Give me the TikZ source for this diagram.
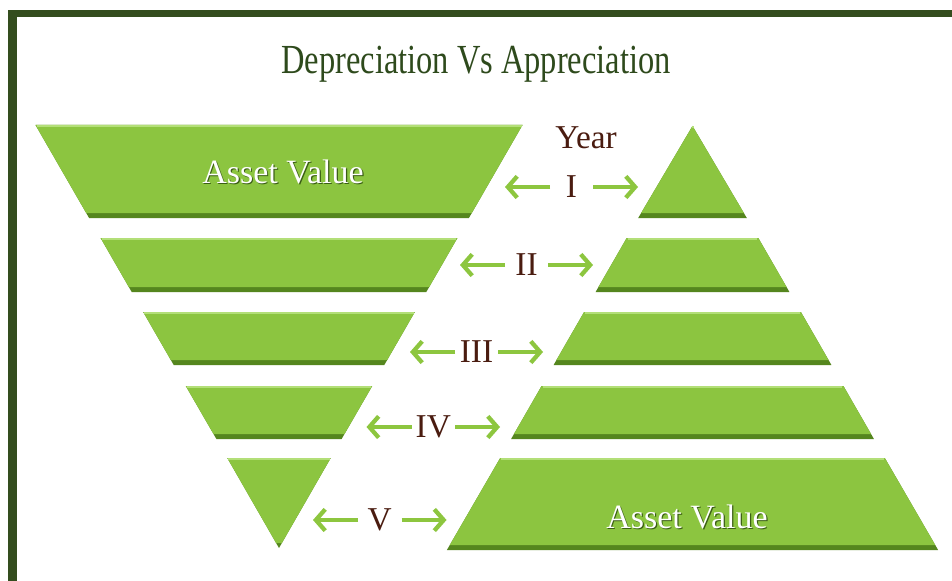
\documentclass[tikz,border=0pt]{standalone}
\usepackage{fontspec}
\usepackage{graphicx}
\setmainfont{Liberation Serif}
\usetikzlibrary{arrows.meta,calc}
\definecolor{borderg}{HTML}{344D1E}
\definecolor{titleg}{HTML}{2E4A1C}
\definecolor{gmain}{HTML}{8CC540}
\definecolor{gshadow}{HTML}{55861E}
\definecolor{glight}{HTML}{B3DF78}
\definecolor{arrowg}{HTML}{8DC63F}
\definecolor{brownt}{HTML}{4A1C10}
\newcommand\greentrap[6]{%
  \pgfmathsetmacro\tf{(#6-5-#3)/(#6-#3)}%
  \pgfmathsetmacro\ilx{#1+(#4-#1)*\tf}%
  \pgfmathsetmacro\irx{#2+(#5-#2)*\tf}%
  \fill[gshadow] (#1,#3) -- (#2,#3) -- (#5,#6) -- (#4,#6) -- cycle;
  \fill[gmain] (#1,#3) -- (#2,#3) -- (\irx,#6-5) -- (\ilx,#6-5) -- cycle;
  \draw[glight, line width=1.2pt] (#1+1,#3+0.8) -- (#2-1,#3+0.8);
}
\tikzset{
  garrow/.style={draw=arrowg, line width=3.2pt, -{Straight Barb[length=7pt,width=16pt]}},
  numeral/.style={text=brownt, font=\fontsize{25}{25}\selectfont, anchor=base, inner sep=0pt},
  assetlbl/.style={text=white, font=\fontsize{25.5}{25.5}\selectfont, anchor=base, inner sep=0pt},
  assetshadow/.style={text=gshadow!70!black, font=\fontsize{25.5}{25.5}\selectfont, anchor=base, inner sep=0pt}
}
\begin{document}
\begin{tikzpicture}[x=0.75pt,y=-0.75pt]
\useasboundingbox (0,0) rectangle (952,581);
\fill[white] (0,0) rectangle (952,581);
% border
\fill[borderg] (8,10) rectangle (952,17.5);
\fill[borderg] (8,10) rectangle (16.5,581);
% title
\node[text=titleg, anchor=base, inner sep=0pt] (title) at (476,74)
  {\scalebox{0.785}[1]{\fontsize{31}{31}\selectfont Depreciation Vs Appreciation}};
% left (depreciation) shapes
\greentrap{35.5}{522.5}{125}{89.1}{468.9}{218}
\greentrap{100.6}{457.4}{238}{131.7}{426.3}{292}
\greentrap{143.2}{414.8}{312}{173.7}{384.3}{365}
\greentrap{185.8}{372.2}{386}{216.4}{341.6}{439}
\greentrap{227.3}{330.7}{458}{279}{279}{548}
% right (appreciation) shapes
\greentrap{692.5}{692.5}{126}{638.2}{746.8}{218}
\greentrap{626.7}{758.3}{238}{595.6}{789.4}{292}
\greentrap{584.1}{800.9}{312}{553.6}{831.4}{365}
\greentrap{541.6}{843.4}{386}{511.1}{873.9}{439}
\greentrap{500.2}{884.8}{458}{446.9}{938.1}{550}
% asset value labels
\node[assetshadow] (av1s) at (284.2,184.2) {Asset Value};
\node[assetlbl] (av1) at (283,183) {Asset Value};
\node[assetshadow] (av2s) at (688.2,529.2) {Asset Value};
\node[assetlbl] (av2) at (687,528) {Asset Value};
% year
\node[numeral] (year) at (586,148) {Year};
% rows: arrows and numerals
\foreach \nm/\yy/\L/\R in {I/187/487/656, II/265/442/611, III/352/392/561, IV/427/348.5/518, V/520/295/464.5}{
  \coordinate (la\nm) at (\L+18,\yy);
  \coordinate (lt\nm) at (\L+63,\yy);
  \coordinate (ra\nm) at (\R-18,\yy);
  \coordinate (rt\nm) at (\R-63,\yy);
  \node[numeral] (n\nm) at ({(\L+\R)/2},\yy+10.5) {\nm};
  \draw[garrow] (lt\nm) -- (la\nm);
  \draw[garrow] (rt\nm) -- (ra\nm);
}
\end{tikzpicture}
\end{document}
